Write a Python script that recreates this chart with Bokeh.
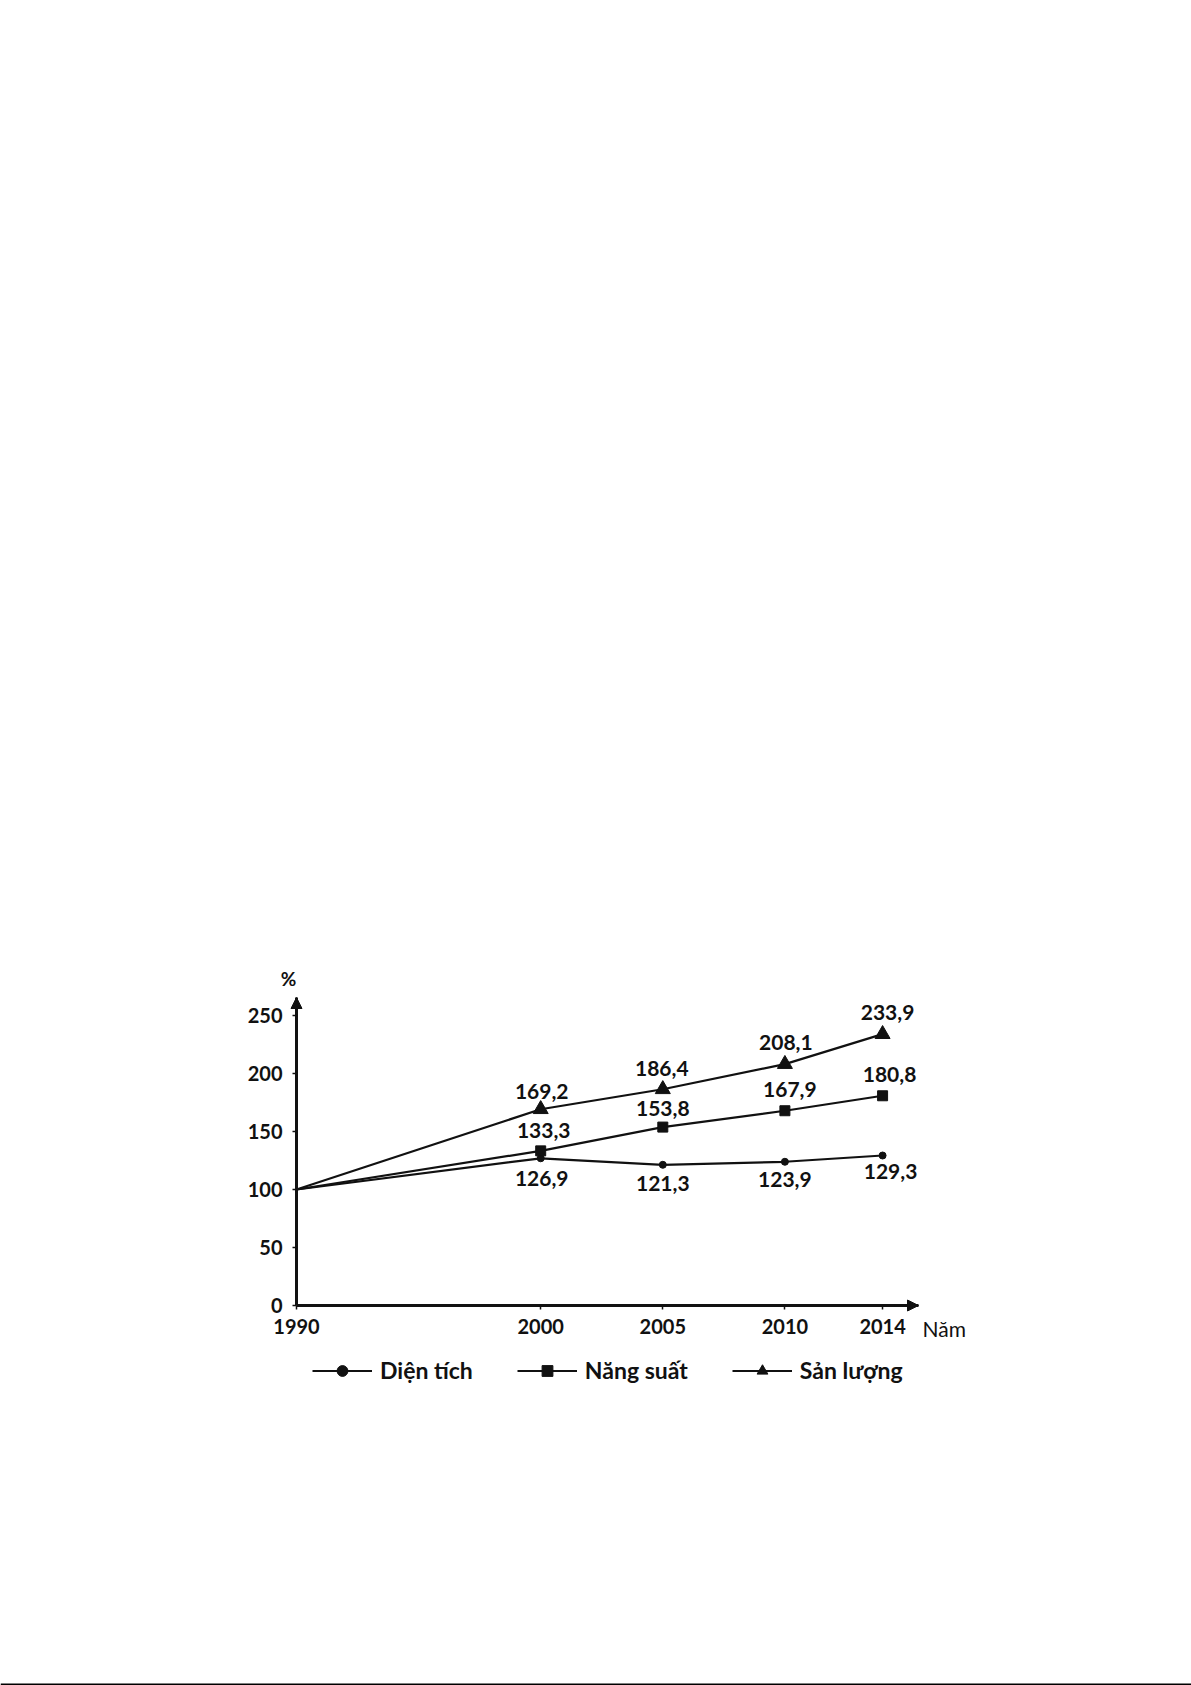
from bokeh.plotting import figure
from bokeh.models import (Range1d, FixedTicker, Arrow, NormalHead, Label, LinearAxis,
                          Legend, LegendItem, ColumnDataSource, Span)
from bokeh.embed import file_html
from bokeh.resources import INLINE
from bokeh.core.properties import value

# ---------------- data ----------------
years = [1990, 2000, 2005, 2010, 2014]
dien_tich = [100, 126.9, 121.3, 123.9, 129.3]
nang_suat = [100, 133.3, 153.8, 167.9, 180.8]
san_luong = [100, 169.2, 186.4, 208.1, 233.9]
series_names = ["Diện tích", "Năng suất", "Sản lượng"]
y_ticks = [0, 50, 100, 150, 200, 250]
x_ticks = [1990, 2000, 2005, 2010, 2014]
y_title = "%"
x_title = "Năm"

# label offsets in screen pixels (dx right, dy down) for points 2000..2014
dt_off = [(1, 20), (0, 19), (0, 18), (8, 16)]
ns_off = [(3, -20), (0, -19), (5, -21), (7, -21)]
sl_off = [(1, -18), (-1, -21), (1, -22), (5, -22)]

# ---------------- layout (page pixels) ----------------
W, H = 1191, 1685
AX_X, AX_Y = 296, 1305          # pixel position of the axes origin
ARROW_X, ARROW_Y = 918, 997     # pixel ends of the axis arrows
X0, Y0 = 1990, 0
sx = 24.42                      # pixels per year
sy = 1.16                       # pixels per percent

def fig_x(px):
    return X0 + (px - AX_X) / sx

def fig_y(py):
    return Y0 + (AX_Y - py) / sy

def dx(px):
    return px / sx

def dy(py):
    return -py / sy

FONT = "Lato"
INK = "#111111"

p = figure(width=W, height=H,
           x_range=Range1d(fig_x(0), fig_x(W)), y_range=Range1d(fig_y(H), fig_y(0)),
           output_backend="svg", toolbar_location=None, title=None,
           x_axis_location=None, y_axis_location=None,
           min_border=0, min_border_left=0, min_border_right=0,
           min_border_top=0, min_border_bottom=0)
p.outline_line_color = None
p.grid.visible = False
p.background_fill_color = "white"
p.border_fill_color = "white"

X_END = fig_x(ARROW_X)
Y_END = fig_y(ARROW_Y)

xaxis = LinearAxis(fixed_location=Y0, bounds=(X0, X_END))
yaxis = LinearAxis(fixed_location=X0, bounds=(Y0, Y_END))
for ax in (xaxis, yaxis):
    ax.axis_line_width = 3
    ax.axis_line_color = INK
    ax.major_tick_in = 0
    ax.major_tick_out = 4
    ax.major_tick_line_width = 1.5
    ax.major_tick_line_color = INK
    ax.minor_tick_line_color = None
    ax.major_label_text_font = FONT
    ax.major_label_text_font_style = "bold"
    ax.major_label_text_font_size = "20px"
    ax.major_label_text_color = INK
xaxis.ticker = FixedTicker(ticks=x_ticks)
yaxis.ticker = FixedTicker(ticks=y_ticks)
xaxis.major_label_standoff = 9
yaxis.major_label_standoff = 10
p.add_layout(xaxis, "below")
p.add_layout(yaxis, "left")

# arrow heads on axes
p.add_layout(Arrow(end=NormalHead(size=11, fill_color=INK, line_color=INK),
                   x_start=X_END - 1, y_start=Y0, x_end=X_END, y_end=Y0,
                   line_color=INK, line_width=3))
p.add_layout(Arrow(end=NormalHead(size=11, fill_color=INK, line_color=INK),
                   x_start=X0, y_start=Y_END - 10, x_end=X0, y_end=Y_END,
                   line_color=INK, line_width=3))

# axis titles
p.add_layout(Label(x=fig_x(288), y=fig_y(978), text=y_title, text_align="center",
                   text_baseline="middle", text_font=FONT, text_font_size="19px",
                   text_font_style="bold", text_color=INK))
p.add_layout(Label(x=fig_x(922), y=fig_y(1328), text=x_title, text_align="left",
                   text_baseline="middle", text_font=FONT, text_font_size="21px",
                   text_color=INK))

# ---------------- series ----------------
series = [
    (dien_tich, "circle", 7, dt_off),
    (nang_suat, "square", 10, ns_off),
    (san_luong, "triangle", 15, sl_off),
]
items = []
for name, (vals, marker, size, offs) in zip(series_names, series):
    lr = p.line(years, vals, line_color=INK, line_width=2.2)
    sr = p.scatter(years[1:], vals[1:], marker=marker, size=size,
                   fill_color=INK, line_color=INK)
    lx = [y + dx(o[0]) for y, o in zip(years[1:], offs)]
    ly = [v + dy(o[1]) for v, o in zip(vals[1:], offs)]
    src = ColumnDataSource(dict(x=lx, y=ly,
                                t=[f"{v:.1f}".replace(".", ",") for v in vals[1:]]))
    p.text("x", "y", text="t", source=src, text_align="center",
           text_baseline="middle", text_font=value(FONT),
           text_font_style="bold", text_font_size="21px", text_color=INK)
    items.append(LegendItem(label=name, renderers=[lr, sr]))

legend = Legend(items=items, orientation="horizontal",
                location=(312, H - 1384),
                glyph_width=60, glyph_height=27, label_standoff=8, spacing=44,
                padding=0, margin=0, border_line_alpha=0,
                background_fill_alpha=0,
                label_text_font=FONT, label_text_font_style="bold",
                label_text_font_size="23px", label_text_color=INK)
p.add_layout(legend)

# page edge rule at the bottom of the scanned page
p.add_layout(Span(location=fig_y(1684), dimension="width", line_color="black",
                  line_width=2))

open("out.html", "w").write(file_html(p, INLINE))
